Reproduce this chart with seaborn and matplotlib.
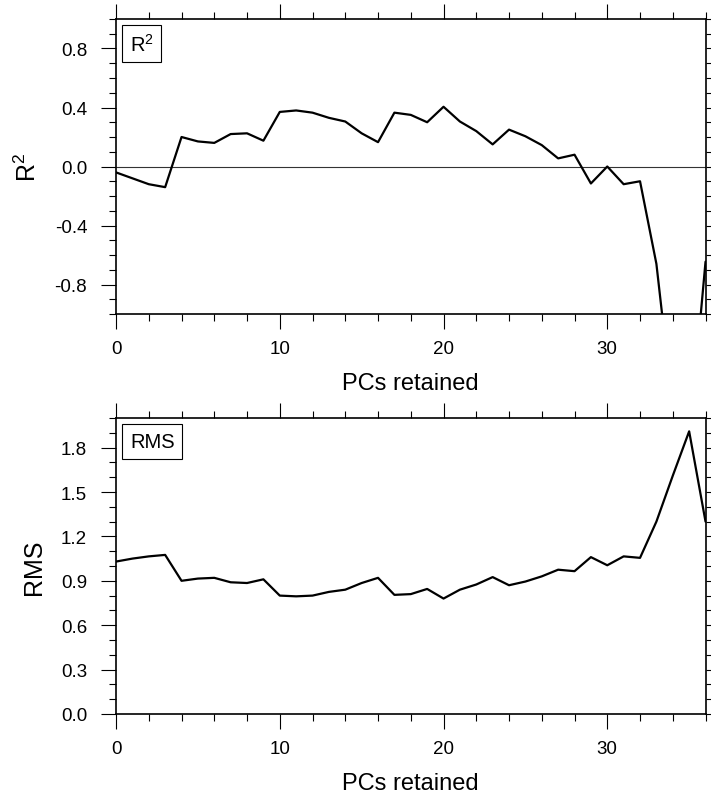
import matplotlib
matplotlib.use("Agg")
import matplotlib.pyplot as plt
import numpy as np
import pandas as pd
import seaborn as sb
from matplotlib.ticker import MultipleLocator

# number of PCs retained
pcs = list(range(0, 37))

r2 = [-0.04, -0.08, -0.12, -0.14, 0.20, 0.17, 0.16, 0.22, 0.225, 0.175,
      0.37, 0.38, 0.365, 0.33, 0.305, 0.225, 0.165, 0.365, 0.35, 0.30,
      0.405, 0.305, 0.24, 0.15, 0.25, 0.205, 0.145, 0.055, 0.08, -0.115,
      0.0, -0.12, -0.10, -0.66, -1.64, -1.87, -0.645]

rms = [1.03, 1.05, 1.065, 1.075, 0.90, 0.915, 0.92, 0.89, 0.885, 0.91,
       0.80, 0.795, 0.80, 0.825, 0.84, 0.885, 0.92, 0.805, 0.81, 0.845,
       0.78, 0.84, 0.875, 0.925, 0.87, 0.895, 0.93, 0.975, 0.965, 1.06,
       1.005, 1.065, 1.055, 1.30, 1.61, 1.91, 1.30]

dfR2 = pd.DataFrame({"pcs": pcs, "val": r2})
dfRms = pd.DataFrame({"pcs": pcs, "val": rms})

sb.set_style("ticks")
plt.rcParams['font.family'] = ['Liberation Sans', 'DejaVu Sans']
plt.rcParams['axes.unicode_minus'] = False
plt.rcParams['mathtext.fontset'] = 'custom'
plt.rcParams['mathtext.rm'] = 'Liberation Sans'
plt.rcParams['mathtext.it'] = 'Liberation Sans:italic'
plt.rcParams['text.color'] = 'black'
plt.rcParams['axes.labelcolor'] = 'black'

fig = plt.figure(figsize=(7.11, 8.03), dpi=100)
ax1 = fig.add_axes([0.1632, 0.6077, 0.8291, 0.3674])
ax2 = fig.add_axes([0.1632, 0.1096, 0.8291, 0.3686])


def style_panel(ax, ymin, ymax, ylab, boxtxt):
    ax.set_xlim(0, 36)
    ax.set_ylim(ymin, ymax)
    ax.xaxis.set_major_locator(MultipleLocator(10))
    ax.xaxis.set_minor_locator(MultipleLocator(2))
    ax.yaxis.set_minor_locator(MultipleLocator(0.1))
    ax.tick_params(which='both', direction='out', top=True, right=True,
                   labeltop=False, labelright=False, width=0.8, colors='black')
    ax.tick_params(which='major', length=10.8, labelsize=13.5)
    ax.tick_params(axis='x', which='major', pad=8)
    ax.tick_params(axis='y', which='major', pad=10)
    ax.tick_params(which='minor', length=5)
    for sp in ax.spines.values():
        sp.set_visible(True)
        sp.set_linewidth(1.2)
        sp.set_color('black')
    ax.set_xlabel("PCs retained", fontsize=17, color='black')
    ax.xaxis.set_label_coords(0.5, -0.195)
    ax.set_ylabel(ylab, fontsize=18, color='black')
    ax.annotate(boxtxt, xy=(0, 1), xycoords='axes fraction',
                xytext=(10, -10), textcoords='offset points',
                ha='left', va='top', fontsize=14.5, color='black',
                bbox=dict(boxstyle='square,pad=0.38', fc='white', ec='black', lw=0.8))


sb.lineplot(data=dfR2, x="pcs", y="val", ax=ax1, color='black', lw=1.6, errorbar=None)
ax1.axhline(0, color='#333333', lw=0.8, zorder=1)
style_panel(ax1, -1.0, 1.0, "R$^2$", "R$^2$")
ax1.set_yticks([-0.8, -0.4, 0.0, 0.4, 0.8])
ax1.yaxis.set_label_coords(-0.128, 0.5)

sb.lineplot(data=dfRms, x="pcs", y="val", ax=ax2, color='black', lw=1.6, errorbar=None)
style_panel(ax2, 0.0, 2.0, "RMS", "RMS")
ax2.set_yticks([0.0, 0.3, 0.6, 0.9, 1.2, 1.5, 1.8])
ax2.yaxis.set_label_coords(-0.118, 0.5)

plt.savefig("out.png", dpi=100)
